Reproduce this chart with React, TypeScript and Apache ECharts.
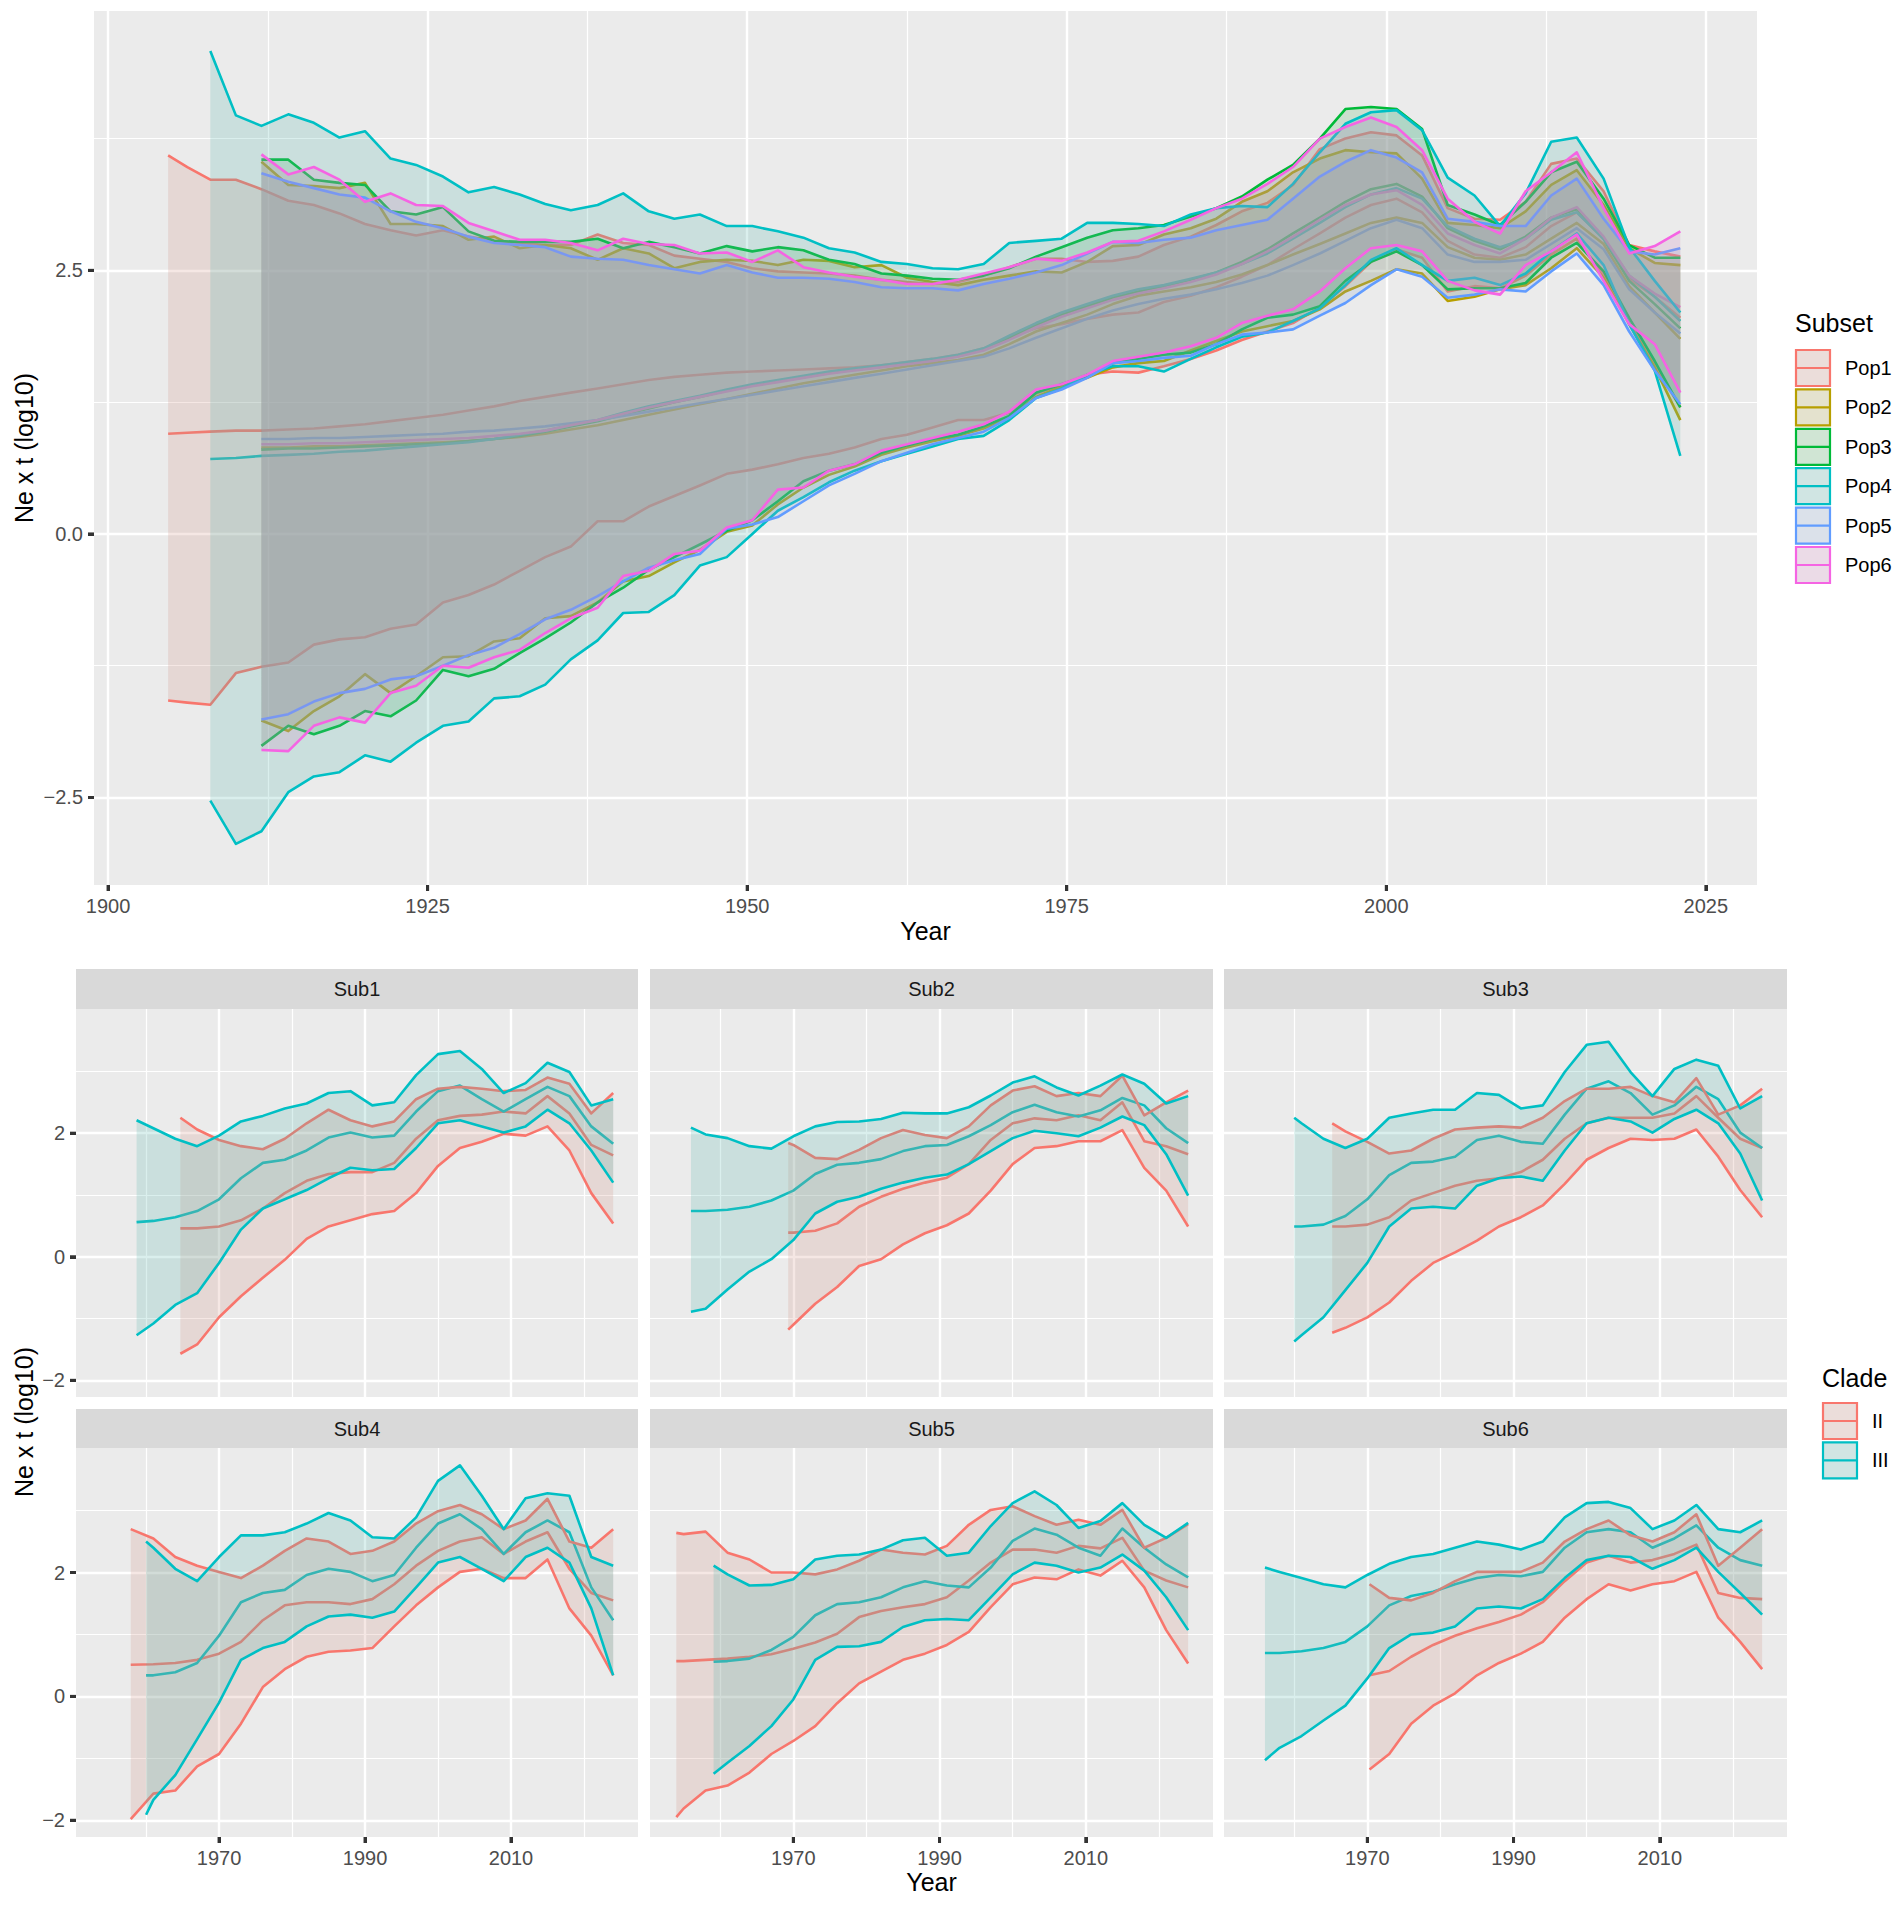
import React, { useEffect, useRef } from 'react';
import * as echarts from 'echarts';

// ---------------- categories, colours, ticks ----------------
const POPS = ['Pop1', 'Pop2', 'Pop3', 'Pop4', 'Pop5', 'Pop6'];
const POP_COLORS = ['#F8766D', '#B79F00', '#00BA38', '#00BFC4', '#619CFF', '#F564E3'];
const SUBS = ['Sub1', 'Sub2', 'Sub3', 'Sub4', 'Sub5', 'Sub6'];
const CLADES = ['II', 'III'];
const CLADE_COLORS = ['#F8766D', '#00BFC4'];

const TOP_X_TICKS = [1900, 1925, 1950, 1975, 2000, 2025];
const TOP_X_MINOR = [1912.5, 1937.5, 1962.5, 1987.5, 2012.5];
const TOP_Y_TICKS = [-2.5, 0, 2.5];
const TOP_Y_MINOR = [-1.25, 1.25, 3.75];
const SUB_X_TICKS = [1970, 1990, 2010];
const SUB_X_MINOR = [1960, 1980, 2000, 2020];
const SUB_Y_TICKS = [-2, 0, 2];
const SUB_Y_MINOR = [-1, 1, 3];

// ---------------- top panel data (Subset) ----------------
const TOP_YEARS = [1908, 1910, 1912, 1914.1, 1916.1, 1918.1, 1920.1, 1922.1, 1924.1, 1926.2, 1928.2, 1930.2, 1932.2, 1934.2, 1936.2, 1938.3, 1940.3, 1942.3, 1944.3, 1946.3, 1948.4, 1950.4, 1952.4, 1954.4, 1956.4, 1958.4, 1960.5, 1962.5, 1964.5, 1966.5, 1968.5, 1970.5, 1972.6, 1974.6, 1976.6, 1978.6, 1980.6, 1982.6, 1984.7, 1986.7, 1988.7, 1990.7, 1992.7, 1994.8, 1996.8, 1998.8, 2000.8, 2002.8, 2004.8, 2006.9, 2008.9, 2010.9, 2012.9, 2014.9, 2017, 2019, 2021, 2023];
const POP1_LEAD_YEARS = [1904.7, 1906.2];
const POP_START_INDEX = [0, 2, 2, 0, 2, 2];

const POP1_UPPER = [3.59, 3.48, 3.36, 3.36, 3.27, 3.16, 3.12, 3.04, 2.94, 2.88, 2.83, 2.88, 2.82, 2.78, 2.76, 2.74, 2.74, 2.84, 2.76, 2.74, 2.64, 2.61, 2.58, 2.52, 2.49, 2.48, 2.47, 2.45, 2.41, 2.39, 2.37, 2.39, 2.45, 2.53, 2.61, 2.61, 2.58, 2.59, 2.63, 2.74, 2.82, 2.93, 3.06, 3.14, 3.31, 3.65, 3.75, 3.81, 3.78, 3.59, 3.09, 2.99, 2.98, 3.15, 3.51, 3.56, 3.25, 2.74, 2.68, 2.63];
const POP1_LOWER = [-1.58, -1.60, -1.62, -1.32, -1.26, -1.22, -1.05, -1.00, -0.98, -0.90, -0.86, -0.65, -0.58, -0.48, -0.35, -0.22, -0.12, 0.12, 0.12, 0.26, 0.36, 0.46, 0.57, 0.61, 0.66, 0.72, 0.76, 0.82, 0.90, 0.94, 1.01, 1.08, 1.08, 1.15, 1.33, 1.42, 1.51, 1.54, 1.53, 1.59, 1.66, 1.74, 1.84, 1.92, 2.00, 2.15, 2.35, 2.58, 2.70, 2.62, 2.30, 2.35, 2.33, 2.45, 2.65, 2.80, 2.45, 2.00, 1.60, 1.20];
const POP1_MEDIAN = [0.95, 0.96, 0.97, 0.98, 0.98, 0.99, 1.00, 1.02, 1.04, 1.07, 1.10, 1.13, 1.17, 1.21, 1.26, 1.30, 1.34, 1.38, 1.42, 1.46, 1.49, 1.51, 1.53, 1.54, 1.55, 1.56, 1.57, 1.58, 1.60, 1.63, 1.66, 1.70, 1.76, 1.86, 1.95, 1.99, 2.04, 2.08, 2.10, 2.20, 2.26, 2.34, 2.44, 2.55, 2.70, 2.85, 3.00, 3.12, 3.18, 3.05, 2.78, 2.65, 2.62, 2.72, 2.92, 3.05, 2.80, 2.42, 2.25, 2.05];

const POP2_UPPER = [3.53, 3.31, 3.30, 3.28, 3.33, 2.94, 2.94, 2.92, 2.79, 2.82, 2.71, 2.74, 2.71, 2.60, 2.71, 2.66, 2.52, 2.58, 2.60, 2.59, 2.55, 2.60, 2.59, 2.53, 2.55, 2.43, 2.39, 2.36, 2.41, 2.45, 2.49, 2.48, 2.58, 2.73, 2.74, 2.84, 2.90, 2.99, 3.15, 3.25, 3.43, 3.56, 3.64, 3.62, 3.61, 3.37, 2.95, 2.93, 2.90, 3.06, 3.31, 3.45, 3.12, 2.71, 2.57, 2.55];
const POP2_LOWER = [-1.77, -1.87, -1.68, -1.54, -1.33, -1.51, -1.35, -1.17, -1.16, -1.02, -0.99, -0.80, -0.78, -0.65, -0.45, -0.40, -0.27, -0.15, 0.02, 0.08, 0.28, 0.44, 0.56, 0.64, 0.75, 0.82, 0.88, 0.93, 1.00, 1.10, 1.30, 1.40, 1.48, 1.58, 1.62, 1.64, 1.74, 1.83, 1.92, 1.97, 2.02, 2.13, 2.30, 2.40, 2.51, 2.47, 2.21, 2.25, 2.32, 2.36, 2.52, 2.71, 2.43, 1.99, 1.58, 1.08];
const POP2_MEDIAN = [0.82, 0.82, 0.83, 0.83, 0.84, 0.85, 0.86, 0.87, 0.88, 0.90, 0.92, 0.95, 0.99, 1.03, 1.08, 1.13, 1.18, 1.23, 1.28, 1.33, 1.38, 1.43, 1.47, 1.51, 1.55, 1.59, 1.62, 1.65, 1.70, 1.80, 1.92, 2.00, 2.08, 2.18, 2.26, 2.30, 2.34, 2.39, 2.46, 2.55, 2.65, 2.75, 2.85, 2.95, 3.00, 2.95, 2.72, 2.62, 2.60, 2.65, 2.80, 2.95, 2.75, 2.35, 2.10, 1.85];

const POP3_UPPER = [3.55, 3.55, 3.36, 3.33, 3.31, 3.06, 3.03, 3.10, 2.87, 2.78, 2.77, 2.77, 2.77, 2.80, 2.71, 2.77, 2.72, 2.66, 2.73, 2.68, 2.72, 2.69, 2.60, 2.56, 2.47, 2.45, 2.42, 2.41, 2.45, 2.52, 2.63, 2.72, 2.81, 2.88, 2.90, 2.93, 3.01, 3.09, 3.20, 3.36, 3.50, 3.75, 4.03, 4.05, 4.03, 3.84, 3.12, 3.03, 2.93, 3.15, 3.43, 3.53, 3.18, 2.74, 2.62, 2.62];
const POP3_LOWER = [-2.01, -1.82, -1.90, -1.82, -1.68, -1.73, -1.58, -1.29, -1.35, -1.28, -1.13, -0.99, -0.84, -0.65, -0.51, -0.34, -0.22, -0.10, 0.03, 0.13, 0.31, 0.50, 0.60, 0.66, 0.77, 0.84, 0.90, 0.94, 1.02, 1.12, 1.34, 1.42, 1.50, 1.62, 1.66, 1.70, 1.72, 1.80, 1.94, 2.05, 2.08, 2.16, 2.40, 2.58, 2.68, 2.55, 2.32, 2.33, 2.33, 2.38, 2.62, 2.76, 2.49, 2.05, 1.64, 1.20];
const POP3_MEDIAN = [0.80, 0.81, 0.81, 0.82, 0.83, 0.84, 0.85, 0.86, 0.88, 0.90, 0.93, 0.97, 1.02, 1.07, 1.13, 1.19, 1.25, 1.30, 1.36, 1.41, 1.45, 1.49, 1.53, 1.56, 1.59, 1.62, 1.65, 1.69, 1.75, 1.86, 1.98, 2.08, 2.16, 2.24, 2.30, 2.35, 2.41, 2.48, 2.58, 2.70, 2.85, 3.00, 3.15, 3.27, 3.32, 3.20, 2.90, 2.78, 2.70, 2.82, 3.00, 3.08, 2.80, 2.40, 2.18, 1.95];

const POP4_UPPER = [4.58, 3.97, 3.87, 3.98, 3.90, 3.76, 3.82, 3.56, 3.50, 3.39, 3.24, 3.29, 3.22, 3.13, 3.07, 3.12, 3.23, 3.06, 2.99, 3.03, 2.92, 2.92, 2.87, 2.81, 2.71, 2.67, 2.58, 2.56, 2.52, 2.51, 2.56, 2.76, 2.78, 2.80, 2.95, 2.95, 2.94, 2.92, 3.03, 3.09, 3.11, 3.10, 3.32, 3.62, 3.89, 4.00, 4.02, 3.83, 3.38, 3.21, 2.92, 3.23, 3.72, 3.76, 3.37, 2.72, 2.40, 2.10];
const POP4_LOWER = [-2.53, -2.94, -2.82, -2.45, -2.30, -2.26, -2.10, -2.16, -1.98, -1.82, -1.78, -1.56, -1.54, -1.43, -1.19, -1.01, -0.75, -0.74, -0.58, -0.30, -0.22, 0.00, 0.22, 0.35, 0.49, 0.60, 0.69, 0.76, 0.83, 0.90, 0.93, 1.08, 1.29, 1.38, 1.51, 1.59, 1.59, 1.54, 1.66, 1.77, 1.87, 1.91, 2.02, 2.14, 2.36, 2.60, 2.71, 2.55, 2.40, 2.43, 2.36, 2.47, 2.68, 2.85, 2.55, 1.99, 1.55, 0.74];
const POP4_MEDIAN = [0.71, 0.72, 0.74, 0.75, 0.76, 0.78, 0.79, 0.81, 0.83, 0.85, 0.87, 0.90, 0.94, 0.98, 1.03, 1.08, 1.15, 1.21, 1.26, 1.31, 1.37, 1.42, 1.46, 1.50, 1.54, 1.57, 1.60, 1.63, 1.66, 1.70, 1.76, 1.88, 2.00, 2.10, 2.18, 2.26, 2.32, 2.36, 2.42, 2.48, 2.56, 2.66, 2.80, 2.95, 3.10, 3.22, 3.28, 3.18, 2.92, 2.80, 2.72, 2.80, 2.98, 3.05, 2.80, 2.45, 2.25, 2.02];

const POP5_UPPER = [3.42, 3.34, 3.28, 3.22, 3.19, 3.06, 2.96, 2.90, 2.82, 2.76, 2.74, 2.72, 2.63, 2.61, 2.60, 2.55, 2.51, 2.47, 2.55, 2.48, 2.43, 2.43, 2.42, 2.39, 2.34, 2.33, 2.33, 2.31, 2.37, 2.42, 2.48, 2.55, 2.66, 2.77, 2.76, 2.79, 2.81, 2.88, 2.93, 2.98, 3.18, 3.39, 3.53, 3.64, 3.57, 3.43, 2.99, 2.96, 2.92, 2.92, 3.21, 3.37, 2.99, 2.68, 2.65, 2.71];
const POP5_LOWER = [-1.76, -1.71, -1.59, -1.51, -1.47, -1.38, -1.35, -1.25, -1.15, -1.08, -0.95, -0.81, -0.72, -0.59, -0.45, -0.32, -0.25, -0.19, 0.05, 0.09, 0.16, 0.31, 0.46, 0.57, 0.69, 0.77, 0.85, 0.91, 0.97, 1.10, 1.29, 1.37, 1.48, 1.62, 1.64, 1.67, 1.69, 1.80, 1.89, 1.91, 1.94, 2.07, 2.19, 2.36, 2.51, 2.44, 2.24, 2.27, 2.32, 2.30, 2.49, 2.66, 2.36, 1.92, 1.55, 1.23];
const POP5_MEDIAN = [0.90, 0.90, 0.91, 0.91, 0.92, 0.93, 0.94, 0.95, 0.97, 0.98, 1.00, 1.02, 1.05, 1.08, 1.12, 1.16, 1.20, 1.24, 1.28, 1.32, 1.36, 1.40, 1.44, 1.48, 1.52, 1.56, 1.60, 1.64, 1.68, 1.76, 1.86, 1.95, 2.04, 2.12, 2.18, 2.23, 2.27, 2.32, 2.38, 2.45, 2.55, 2.66, 2.78, 2.90, 2.98, 2.90, 2.65, 2.58, 2.58, 2.60, 2.75, 2.90, 2.70, 2.32, 2.10, 1.90];

const POP6_UPPER = [3.60, 3.41, 3.48, 3.36, 3.15, 3.23, 3.12, 3.11, 2.95, 2.87, 2.79, 2.79, 2.76, 2.69, 2.80, 2.75, 2.74, 2.66, 2.67, 2.58, 2.69, 2.53, 2.48, 2.44, 2.41, 2.37, 2.37, 2.41, 2.47, 2.53, 2.61, 2.59, 2.67, 2.77, 2.78, 2.87, 2.98, 3.09, 3.18, 3.32, 3.48, 3.75, 3.86, 3.95, 3.86, 3.64, 3.18, 2.96, 2.85, 3.25, 3.43, 3.62, 3.09, 2.66, 2.73, 2.87];
const POP6_LOWER = [-2.05, -2.06, -1.82, -1.74, -1.79, -1.51, -1.44, -1.25, -1.27, -1.17, -1.10, -0.94, -0.80, -0.70, -0.40, -0.35, -0.19, -0.16, 0.06, 0.13, 0.42, 0.44, 0.60, 0.66, 0.79, 0.85, 0.91, 0.97, 1.04, 1.16, 1.37, 1.42, 1.51, 1.64, 1.68, 1.72, 1.78, 1.86, 2.00, 2.07, 2.13, 2.30, 2.52, 2.71, 2.74, 2.68, 2.40, 2.31, 2.27, 2.55, 2.68, 2.84, 2.40, 1.99, 1.80, 1.34];
const POP6_MEDIAN = [0.85, 0.85, 0.86, 0.86, 0.87, 0.88, 0.89, 0.90, 0.91, 0.93, 0.95, 0.98, 1.03, 1.08, 1.14, 1.20, 1.25, 1.30, 1.35, 1.40, 1.44, 1.48, 1.52, 1.55, 1.58, 1.61, 1.64, 1.68, 1.74, 1.84, 1.96, 2.06, 2.14, 2.22, 2.28, 2.33, 2.39, 2.46, 2.56, 2.68, 2.82, 2.98, 3.12, 3.22, 3.26, 3.12, 2.85, 2.74, 2.66, 2.80, 3.00, 3.10, 2.82, 2.45, 2.28, 2.15];

// ---------------- facet panels data (Clade) ----------------
const SUB_GRID_YEARS = [1955, 1958, 1961, 1964, 1967, 1970, 1973, 1976, 1979, 1982, 1985, 1988, 1991, 1994, 1997, 2000, 2003, 2006, 2009, 2012, 2015, 2018, 2021, 2024];
// first year of each clade series per panel: [II, III]
const SUB_START_YEARS = [[1964.7, 1958.7], [1969.3, 1956], [1965.2, 1960], [1957.9, 1960], [1954, 1959.1], [1970.3, 1956]];

const SUB1_II_LOWER = [-1.57, -1.42, -0.98, -0.64, -0.34, -0.05, 0.29, 0.49, 0.59, 0.69, 0.74, 1.03, 1.47, 1.76, 1.86, 1.99, 1.96, 2.11, 1.72, 1.03, 0.54];
const SUB1_II_MEDIAN = [0.46, 0.46, 0.49, 0.59, 0.78, 1.03, 1.23, 1.34, 1.37, 1.37, 1.52, 1.91, 2.21, 2.28, 2.30, 2.35, 2.32, 2.60, 2.32, 1.81, 1.64];
const SUB1_II_UPPER = [2.25, 2.06, 1.89, 1.79, 1.74, 1.91, 2.16, 2.38, 2.21, 2.11, 2.19, 2.55, 2.72, 2.75, 2.72, 2.68, 2.70, 2.90, 2.80, 2.32, 2.65];
const SUB1_III_LOWER = [-1.27, -1.08, -0.78, -0.59, -0.10, 0.44, 0.78, 0.93, 1.08, 1.27, 1.44, 1.40, 1.42, 1.76, 2.16, 2.21, 2.11, 2.01, 2.11, 2.38, 2.16, 1.72, 1.20];
const SUB1_III_MEDIAN = [0.56, 0.58, 0.64, 0.74, 0.93, 1.27, 1.52, 1.57, 1.72, 1.93, 2.01, 1.93, 1.96, 2.35, 2.68, 2.77, 2.55, 2.35, 2.55, 2.75, 2.60, 2.11, 1.83];
const SUB1_III_UPPER = [2.21, 2.08, 1.91, 1.79, 1.96, 2.19, 2.28, 2.40, 2.48, 2.65, 2.68, 2.45, 2.50, 2.94, 3.28, 3.33, 3.04, 2.65, 2.81, 3.14, 2.99, 2.45, 2.55];

const SUB2_II_LOWER = [-1.18, -1.10, -0.76, -0.49, -0.15, -0.04, 0.20, 0.38, 0.51, 0.70, 1.07, 1.50, 1.76, 1.79, 1.87, 1.87, 2.05, 1.44, 1.07, 0.49];
const SUB2_II_MEDIAN = [0.39, 0.39, 0.42, 0.54, 0.81, 0.97, 1.10, 1.20, 1.28, 1.50, 1.89, 2.16, 2.24, 2.21, 2.29, 2.21, 2.50, 1.87, 1.79, 1.66];
const SUB2_II_UPPER = [1.84, 1.81, 1.60, 1.58, 1.73, 1.92, 2.05, 1.97, 1.92, 2.11, 2.45, 2.69, 2.76, 2.60, 2.65, 2.60, 2.93, 2.29, 2.50, 2.69];
const SUB2_III_LOWER = [-0.89, -0.84, -0.53, -0.24, -0.04, 0.27, 0.70, 0.89, 0.97, 1.10, 1.20, 1.28, 1.33, 1.50, 1.71, 1.92, 2.04, 2.00, 1.95, 2.09, 2.27, 2.13, 1.66, 0.99];
const SUB2_III_MEDIAN = [0.74, 0.74, 0.76, 0.81, 0.91, 1.07, 1.34, 1.49, 1.52, 1.58, 1.71, 1.79, 1.81, 1.95, 2.13, 2.34, 2.46, 2.34, 2.27, 2.37, 2.57, 2.45, 2.08, 1.84];
const SUB2_III_UPPER = [2.09, 1.98, 1.92, 1.79, 1.75, 1.95, 2.11, 2.18, 2.19, 2.23, 2.33, 2.32, 2.32, 2.42, 2.61, 2.82, 2.92, 2.74, 2.61, 2.77, 2.95, 2.80, 2.48, 2.60];

const SUB3_II_LOWER = [-1.23, -1.15, -0.98, -0.74, -0.39, -0.10, 0.07, 0.26, 0.49, 0.64, 0.83, 1.18, 1.57, 1.76, 1.91, 1.89, 1.91, 2.06, 1.62, 1.08, 0.64];
const SUB3_II_MEDIAN = [0.49, 0.49, 0.52, 0.64, 0.91, 1.03, 1.15, 1.23, 1.27, 1.37, 1.57, 1.91, 2.16, 2.25, 2.25, 2.25, 2.32, 2.60, 2.25, 1.91, 1.76];
const SUB3_II_UPPER = [2.16, 2.03, 1.86, 1.67, 1.72, 1.91, 2.06, 2.09, 2.11, 2.09, 2.25, 2.52, 2.72, 2.72, 2.75, 2.60, 2.50, 2.89, 2.30, 2.45, 2.72];
const SUB3_III_LOWER = [-1.37, -1.27, -0.98, -0.54, -0.10, 0.49, 0.78, 0.81, 0.78, 1.15, 1.27, 1.30, 1.23, 1.72, 2.16, 2.25, 2.19, 2.01, 2.23, 2.38, 2.16, 1.67, 0.91];
const SUB3_III_MEDIAN = [0.49, 0.49, 0.52, 0.66, 0.93, 1.32, 1.52, 1.54, 1.62, 1.89, 1.96, 1.86, 1.83, 2.30, 2.72, 2.84, 2.65, 2.30, 2.45, 2.75, 2.55, 2.01, 1.76];
const SUB3_III_UPPER = [2.25, 2.16, 1.91, 1.76, 1.91, 2.25, 2.32, 2.38, 2.38, 2.65, 2.62, 2.40, 2.45, 2.99, 3.43, 3.48, 2.99, 2.60, 3.04, 3.19, 3.09, 2.40, 2.60];

const SUB4_II_LOWER = [-1.98, -1.57, -1.52, -1.13, -0.93, -0.44, 0.15, 0.44, 0.64, 0.72, 0.74, 0.78, 1.13, 1.47, 1.76, 2.01, 2.06, 1.91, 1.91, 2.21, 1.42, 0.98, 0.34];
const SUB4_II_MEDIAN = [0.51, 0.52, 0.54, 0.59, 0.69, 0.88, 1.23, 1.47, 1.52, 1.52, 1.49, 1.57, 1.81, 2.11, 2.35, 2.50, 2.57, 2.30, 2.50, 2.65, 2.06, 1.67, 1.55];
const SUB4_II_UPPER = [2.70, 2.55, 2.25, 2.11, 2.01, 1.91, 2.11, 2.35, 2.55, 2.50, 2.30, 2.35, 2.50, 2.79, 2.99, 3.09, 2.94, 2.70, 2.84, 3.19, 2.50, 2.40, 2.70];
const SUB4_III_LOWER = [-1.91, -1.67, -1.27, -0.69, -0.10, 0.59, 0.78, 0.88, 1.13, 1.29, 1.32, 1.27, 1.37, 1.76, 2.16, 2.25, 2.06, 1.86, 2.25, 2.40, 2.16, 1.42, 0.34];
const SUB4_III_MEDIAN = [0.34, 0.34, 0.39, 0.54, 0.98, 1.52, 1.67, 1.72, 1.96, 2.06, 2.01, 1.86, 1.96, 2.40, 2.79, 2.94, 2.70, 2.30, 2.65, 2.84, 2.65, 1.76, 1.23];
const SUB4_III_UPPER = [2.50, 2.40, 2.06, 1.86, 2.25, 2.60, 2.60, 2.65, 2.79, 2.96, 2.84, 2.57, 2.55, 2.89, 3.48, 3.73, 3.24, 2.70, 3.20, 3.28, 3.24, 2.25, 2.11];

const SUB5_II_LOWER = [-1.95, -1.81, -1.52, -1.44, -1.23, -0.93, -0.72, -0.48, -0.11, 0.21, 0.40, 0.59, 0.69, 0.83, 1.04, 1.44, 1.81, 1.92, 1.89, 2.05, 1.95, 2.19, 1.76, 1.07, 0.53];
const SUB5_II_MEDIAN = [0.57, 0.57, 0.59, 0.61, 0.64, 0.68, 0.77, 0.87, 1.01, 1.28, 1.38, 1.44, 1.49, 1.60, 1.87, 2.16, 2.37, 2.37, 2.32, 2.43, 2.39, 2.56, 2.03, 1.87, 1.76];
const SUB5_II_UPPER = [2.64, 2.62, 2.66, 2.32, 2.21, 2.00, 2.00, 1.97, 2.05, 2.19, 2.37, 2.32, 2.29, 2.43, 2.77, 3.01, 3.07, 2.91, 2.77, 2.85, 2.77, 3.01, 2.40, 2.56, 2.78];
const SUB5_III_LOWER = [-1.25, -1.07, -0.80, -0.48, -0.05, 0.59, 0.80, 0.81, 0.88, 1.12, 1.23, 1.25, 1.23, 1.60, 1.97, 2.16, 2.11, 2.00, 2.08, 2.29, 2.03, 1.60, 1.07];
const SUB5_III_MEDIAN = [0.56, 0.57, 0.61, 0.75, 0.96, 1.31, 1.49, 1.52, 1.60, 1.76, 1.86, 1.79, 1.76, 2.08, 2.51, 2.71, 2.61, 2.40, 2.27, 2.71, 2.40, 2.13, 1.92];
const SUB5_III_UPPER = [2.11, 1.97, 1.79, 1.80, 1.89, 2.21, 2.27, 2.29, 2.37, 2.52, 2.56, 2.27, 2.32, 2.75, 3.12, 3.31, 3.09, 2.72, 2.83, 3.12, 2.77, 2.56, 2.80];

const SUB6_II_LOWER = [-1.18, -0.93, -0.44, -0.15, 0.05, 0.34, 0.54, 0.69, 0.88, 1.27, 1.57, 1.81, 1.71, 1.81, 1.86, 2.01, 1.27, 0.88, 0.44];
const SUB6_II_MEDIAN = [0.34, 0.41, 0.64, 0.83, 0.98, 1.10, 1.20, 1.32, 1.52, 1.86, 2.16, 2.27, 2.16, 2.20, 2.30, 2.45, 1.67, 1.59, 1.57];
const SUB6_II_UPPER = [1.81, 1.59, 1.55, 1.67, 1.86, 2.01, 2.01, 2.01, 2.16, 2.50, 2.70, 2.84, 2.60, 2.50, 2.65, 2.94, 2.11, 2.40, 2.70];
const SUB6_III_LOWER = [-1.03, -0.83, -0.64, -0.39, -0.15, 0.29, 0.78, 1.00, 1.03, 1.13, 1.42, 1.45, 1.42, 1.57, 1.91, 2.20, 2.27, 2.25, 2.06, 2.20, 2.40, 2.01, 1.67, 1.32];
const SUB6_III_MEDIAN = [0.70, 0.70, 0.73, 0.78, 0.88, 1.13, 1.47, 1.62, 1.69, 1.81, 1.91, 1.96, 1.94, 2.01, 2.40, 2.65, 2.70, 2.65, 2.40, 2.55, 2.76, 2.40, 2.20, 2.11];
const SUB6_III_UPPER = [2.08, 2.01, 1.91, 1.81, 1.76, 1.96, 2.14, 2.25, 2.30, 2.40, 2.50, 2.45, 2.37, 2.50, 2.89, 3.12, 3.14, 3.04, 2.70, 2.84, 3.09, 2.70, 2.65, 2.84];

// ---------------- assembled tables ----------------
const TOP_LOWER = [POP1_LOWER, POP2_LOWER, POP3_LOWER, POP4_LOWER, POP5_LOWER, POP6_LOWER];
const TOP_MEDIAN = [POP1_MEDIAN, POP2_MEDIAN, POP3_MEDIAN, POP4_MEDIAN, POP5_MEDIAN, POP6_MEDIAN];
const TOP_UPPER = [POP1_UPPER, POP2_UPPER, POP3_UPPER, POP4_UPPER, POP5_UPPER, POP6_UPPER];

const SUB_TABLE = [
  [[SUB1_II_LOWER, SUB1_II_MEDIAN, SUB1_II_UPPER], [SUB1_III_LOWER, SUB1_III_MEDIAN, SUB1_III_UPPER]],
  [[SUB2_II_LOWER, SUB2_II_MEDIAN, SUB2_II_UPPER], [SUB2_III_LOWER, SUB2_III_MEDIAN, SUB2_III_UPPER]],
  [[SUB3_II_LOWER, SUB3_II_MEDIAN, SUB3_II_UPPER], [SUB3_III_LOWER, SUB3_III_MEDIAN, SUB3_III_UPPER]],
  [[SUB4_II_LOWER, SUB4_II_MEDIAN, SUB4_II_UPPER], [SUB4_III_LOWER, SUB4_III_MEDIAN, SUB4_III_UPPER]],
  [[SUB5_II_LOWER, SUB5_II_MEDIAN, SUB5_II_UPPER], [SUB5_III_LOWER, SUB5_III_MEDIAN, SUB5_III_UPPER]],
  [[SUB6_II_LOWER, SUB6_II_MEDIAN, SUB6_II_UPPER], [SUB6_III_LOWER, SUB6_III_MEDIAN, SUB6_III_UPPER]],
];

// ---------------- layout & style ----------------
const W = 1902;
const H = 1909;
const FONT = '"Liberation Sans", Arial, Helvetica, sans-serif';
const TOP_GRID = { left: 94, top: 11, width: 1663, height: 874 };
const TOP_X_RANGE = [1898.9, 2029.0];
const TOP_Y_RANGE = [-3.33, 4.96];
const PANEL_LEFTS = [76, 650, 1224];
const PANEL_WIDTHS = [562, 563, 563];
const ROW_TOPS = [1009, 1448];
const ROW_HEIGHTS = [388, 389];
const STRIP_TOPS = [969, 1409];
const STRIP_HEIGHTS = [40, 39];
const SUB_X_RANGE = [1950.4, 2027.4];
const SUB_Y_RANGE = [-2.27, 4.01];
const LINE_W = 2.6;
const FILL_ALPHA = 0.22;
const FILL_NEUTRAL = '#AEB099';
const FILL_MIX = 0.5;
const TICK_COLOR = '#333333';
const TICK_LEN = 6;
const TICK_W = 3;

function hexRgb(hex: string) {
  const n = parseInt(hex.slice(1), 16);
  return [(n >> 16) & 255, (n >> 8) & 255, n & 255];
}

function fillColor(hex: string) {
  const c = hexRgb(hex);
  const g = hexRgb(FILL_NEUTRAL);
  const m = c.map((v, i) => Math.round(v * (1 - FILL_MIX) + g[i] * FILL_MIX));
  return `rgba(${m[0]},${m[1]},${m[2]},${FILL_ALPHA})`;
}

// ggplot prints negative numbers with a true minus sign
const minus = (s: string) => s.replace('-', '\u2212');

function pairs(years: number[], vals: number[]) {
  const n = Math.min(years.length, vals.length);
  const out: number[][] = [];
  for (let i = 0; i < n; i++) out.push([years[i], vals[i]]);
  return out;
}

function popYears(i: number) {
  const grid = TOP_YEARS.slice(POP_START_INDEX[i]);
  return i === 0 ? [...POP1_LEAD_YEARS, ...grid] : grid;
}

function subYears(start: number) {
  return [start, ...SUB_GRID_YEARS.filter((y) => y > start + 0.5)];
}

function lineSeries(name: string, xi: number, yi: number, data: number[][], color: string, z: number) {
  return {
    type: 'line',
    name,
    xAxisIndex: xi,
    yAxisIndex: yi,
    data,
    showSymbol: false,
    symbol: 'none',
    silent: true,
    z,
    lineStyle: { color, width: LINE_W, join: 'round', cap: 'butt' },
    itemStyle: { color },
    emphasis: { disabled: true },
  };
}

function ribbonSeries(name: string, xi: number, yi: number, years: number[], lo: number[], hi: number[], color: string, z: number) {
  const n = Math.min(years.length, lo.length, hi.length);
  return {
    type: 'custom',
    name,
    xAxisIndex: xi,
    yAxisIndex: yi,
    silent: true,
    z,
    data: [[years[0], lo[0]]],
    renderItem: (_params: any, api: any) => {
      const pts: number[][] = [];
      for (let i = 0; i < n; i++) pts.push(api.coord([years[i], hi[i]]));
      for (let i = n - 1; i >= 0; i--) pts.push(api.coord([years[i], lo[i]]));
      return { type: 'polygon', shape: { points: pts }, style: { fill: fillColor(color) } };
    },
  };
}

function axisPair(dim: 'x' | 'y', gridIndex: number, range: number[], major: number[], minor: number[], showLabels: boolean, fmt: (v: number) => string) {
  const base = { type: 'value', gridIndex, min: range[0], max: range[1] };
  const minorAxis = {
    ...base,
    position: dim === 'x' ? 'top' : 'right',
    axisLine: { show: false, onZero: false },
    axisTick: { show: false, customValues: minor },
    axisLabel: { show: false, customValues: minor },
    splitLine: { show: true, lineStyle: { color: '#FFFFFF', width: 1.2 } },
  };
  const majorAxis = {
    ...base,
    position: dim === 'x' ? 'bottom' : 'left',
    axisLine: { show: false, onZero: false },
    axisTick: { show: showLabels, inside: false, customValues: major, length: TICK_LEN, lineStyle: { color: TICK_COLOR, width: TICK_W } },
    axisLabel: { show: showLabels, customValues: major, formatter: fmt, color: '#4D4D4D', fontSize: 20, fontFamily: FONT, margin: 11 },
    splitLine: { show: true, lineStyle: { color: '#FFFFFF', width: 2.4 } },
  };
  return [minorAxis, majorAxis];
}

// which axes carry tick marks: [xAxisIndex, yAxisIndex, dim, values, x range, y range]
function tickSpecs() {
  const specs: any[] = [
    [1, 1, 'x', TOP_X_TICKS, TOP_X_RANGE, TOP_Y_RANGE],
    [1, 1, 'y', TOP_Y_TICKS, TOP_X_RANGE, TOP_Y_RANGE],
  ];
  SUBS.forEach((_s, s) => {
    const g = s + 1;
    const idx = 2 * g + 1;
    if (Math.floor(s / 3) === 1) specs.push([idx, idx, 'x', SUB_X_TICKS, SUB_X_RANGE, SUB_Y_RANGE]);
    if (s % 3 === 0) specs.push([idx, idx, 'y', SUB_Y_TICKS, SUB_X_RANGE, SUB_Y_RANGE]);
  });
  return specs;
}

// tick marks converted to pixels through the chart's own axis scales
function tickGraphics(chart: any) {
  const els: any[] = [];
  tickSpecs().forEach(([xi, yi, dim, values, xr, yr]) => {
    values.forEach((v: number) => {
      if (dim === 'x') {
        const px = chart.convertToPixel({ xAxisIndex: xi }, v);
        const py = chart.convertToPixel({ yAxisIndex: yi }, yr[0]);
        els.push({ type: 'line', z: 50, silent: true, shape: { x1: px, y1: py, x2: px, y2: py + TICK_LEN }, style: { stroke: TICK_COLOR, lineWidth: TICK_W } });
      } else {
        const px = chart.convertToPixel({ xAxisIndex: xi }, xr[0]);
        const py = chart.convertToPixel({ yAxisIndex: yi }, v);
        els.push({ type: 'line', z: 50, silent: true, shape: { x1: px, y1: py, x2: px - TICK_LEN, y2: py }, style: { stroke: TICK_COLOR, lineWidth: TICK_W } });
      }
    });
  });
  return els;
}

function legendGraphics(title: string, labels: string[], colors: string[], left: number, titleY: number, keyTop: number) {
  const els: any[] = [];
  els.push({ type: 'text', x: left, y: titleY, style: { text: title, fontSize: 25, fontFamily: FONT, fill: '#000000', align: 'left', verticalAlign: 'middle' } });
  labels.forEach((lab, i) => {
    const top = keyTop + i * 39.4;
    els.push({ type: 'rect', shape: { x: left, y: top, width: 36, height: 38 }, style: { fill: '#F2F2F2' } });
    els.push({ type: 'rect', shape: { x: left + 1, y: top + 1, width: 34, height: 36 }, style: { fill: fillColor(colors[i]), stroke: colors[i], lineWidth: 2.2 } });
    els.push({ type: 'line', shape: { x1: left + 1, y1: top + 19, x2: left + 35, y2: top + 19 }, style: { stroke: colors[i], lineWidth: 2.2 } });
    els.push({ type: 'text', x: left + 50, y: top + 19, style: { text: lab, fontSize: 20, fontFamily: FONT, fill: '#000000', align: 'left', verticalAlign: 'middle' } });
  });
  return els;
}

function buildOption() {
  const grids: any[] = [];
  const xAxes: any[] = [];
  const yAxes: any[] = [];
  const series: any[] = [];
  const graphics: any[] = [];

  // ---- top panel ----
  grids.push({ ...TOP_GRID, show: true, backgroundColor: '#EBEBEB', borderWidth: 0 });
  xAxes.push(...axisPair('x', 0, TOP_X_RANGE, TOP_X_TICKS, TOP_X_MINOR, true, (v) => String(v)));
  yAxes.push(...axisPair('y', 0, TOP_Y_RANGE, TOP_Y_TICKS, TOP_Y_MINOR, true, (v) => minus(Number(v).toFixed(1))));
  const txi = 1;
  const tyi = 1;
  POPS.forEach((p, i) => {
    series.push(lineSeries(`${p} median`, txi, tyi, pairs(popYears(i), TOP_MEDIAN[i]), POP_COLORS[i], 2));
  });
  POPS.forEach((p, i) => {
    const yrs = popYears(i);
    series.push(ribbonSeries(`${p} band`, txi, tyi, yrs, TOP_LOWER[i], TOP_UPPER[i], POP_COLORS[i], 3 + 2 * i));
    series.push(lineSeries(`${p} lower`, txi, tyi, pairs(yrs, TOP_LOWER[i]), POP_COLORS[i], 4 + 2 * i));
    series.push(lineSeries(`${p} upper`, txi, tyi, pairs(yrs, TOP_UPPER[i]), POP_COLORS[i], 4 + 2 * i));
  });

  // ---- facet panels ----
  SUBS.forEach((sub, s) => {
    const g = s + 1;
    const col = s % 3;
    const row = Math.floor(s / 3);
    grids.push({ left: PANEL_LEFTS[col], top: ROW_TOPS[row], width: PANEL_WIDTHS[col], height: ROW_HEIGHTS[row], show: true, backgroundColor: '#EBEBEB', borderWidth: 0 });
    xAxes.push(...axisPair('x', g, SUB_X_RANGE, SUB_X_TICKS, SUB_X_MINOR, row === 1, (v) => String(v)));
    yAxes.push(...axisPair('y', g, SUB_Y_RANGE, SUB_Y_TICKS, SUB_Y_MINOR, col === 0, (v) => minus(String(v))));
    const xi = 2 * g + 1;
    const yi = 2 * g + 1;
    CLADES.forEach((c, k) => {
      const yrs = subYears(SUB_START_YEARS[s][k]);
      series.push(lineSeries(`${sub} ${c} median`, xi, yi, pairs(yrs, SUB_TABLE[s][k][1]), CLADE_COLORS[k], 2));
    });
    CLADES.forEach((c, k) => {
      const yrs = subYears(SUB_START_YEARS[s][k]);
      const [lo, , hi] = SUB_TABLE[s][k];
      series.push(ribbonSeries(`${sub} ${c} band`, xi, yi, yrs, lo, hi, CLADE_COLORS[k], 3 + 2 * k));
      series.push(lineSeries(`${sub} ${c} lower`, xi, yi, pairs(yrs, lo), CLADE_COLORS[k], 4 + 2 * k));
      series.push(lineSeries(`${sub} ${c} upper`, xi, yi, pairs(yrs, hi), CLADE_COLORS[k], 4 + 2 * k));
    });
    // strip
    graphics.push({ type: 'rect', shape: { x: PANEL_LEFTS[col], y: STRIP_TOPS[row], width: PANEL_WIDTHS[col], height: STRIP_HEIGHTS[row] }, style: { fill: '#D9D9D9' } });
    graphics.push({
      type: 'text',
      x: PANEL_LEFTS[col] + PANEL_WIDTHS[col] / 2,
      y: STRIP_TOPS[row] + STRIP_HEIGHTS[row] / 2,
      style: { text: sub, fontSize: 20, fontFamily: FONT, fill: '#1A1A1A', align: 'center', verticalAlign: 'middle' },
    });
  });

  // ---- titles ----
  const title = (text: string, x: number, y: number, rot: number) => ({
    type: 'text', x, y, rotation: rot,
    style: { text, fontSize: 25, fontFamily: FONT, fill: '#000000', align: 'center', verticalAlign: 'middle' },
  });
  graphics.push(title('Year', TOP_GRID.left + TOP_GRID.width / 2, 931, 0));
  graphics.push(title('Ne x t (log10)', 24, TOP_GRID.top + TOP_GRID.height / 2, Math.PI / 2));
  graphics.push(title('Year', (PANEL_LEFTS[0] + PANEL_LEFTS[2] + PANEL_WIDTHS[2]) / 2, 1882, 0));
  graphics.push(title('Ne x t (log10)', 24, 1422, Math.PI / 2));

  // ---- legends ----
  graphics.push(...legendGraphics('Subset', POPS, POP_COLORS, 1795, 323, 349));
  graphics.push(...legendGraphics('Clade', CLADES, CLADE_COLORS, 1822, 1378, 1402));

  return {
    animation: false,
    backgroundColor: '#FFFFFF',
    textStyle: { fontFamily: FONT },
    grid: grids,
    xAxis: xAxes,
    yAxis: yAxes,
    series,
    graphic: { elements: graphics },
  };
}

export default function App() {
  const ref = useRef<HTMLDivElement>(null);
  useEffect(() => {
    if (!ref.current) return;
    const chart = echarts.init(ref.current, undefined, { renderer: 'svg', width: W, height: H });
    const option: any = buildOption();
    chart.setOption(option);
    try {
      const ticks = tickGraphics(chart);
      chart.setOption({ graphic: { elements: [...option.graphic.elements, ...ticks] } });
    } catch (e) {
      // keep the chart even if tick conversion fails
    }
    return () => chart.dispose();
  }, []);
  return <div ref={ref} style={{ position: 'absolute', left: 0, top: 0, width: W, height: H }} />;
}
